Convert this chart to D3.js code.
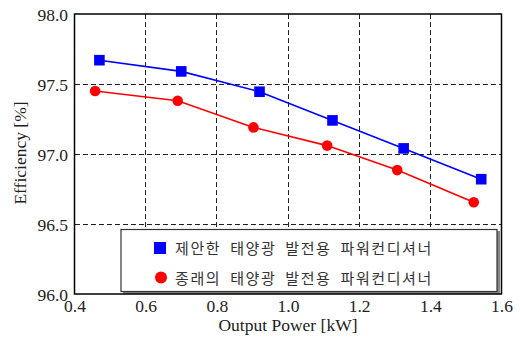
<!DOCTYPE html>
<head>
  <meta charset="utf-8">
  <script src="https://d3js.org/d3.v7.min.js"></script>
  <style>
    body { margin: 0; background: #fff; }
    .leg { font-family: "Noto Sans CJK KR", sans-serif; font-size: 15px; fill: #333; letter-spacing: 1.6px; word-spacing: 4px; }
  </style>
</head>
<body>
  <svg width="520" height="337" id="chart"></svg>
  <script>
    // values
    const xProposed = [0.47, 0.70, 0.92, 1.125, 1.325, 1.543];
    const yProposed = [97.67, 97.59, 97.445, 97.24, 97.04, 96.82];
    const xConventional = [0.458, 0.69, 0.903, 1.11, 1.307, 1.522];
    const yConventional = [97.45, 97.38, 97.19, 97.06, 96.885, 96.655];
    const xTicks = [0.4, 0.6, 0.8, 1.0, 1.2, 1.4, 1.6];
    const yTicks = [96.0, 96.5, 97.0, 97.5, 98.0];
    const seriesNames = ["제안한 태양광 발전용 파워컨디셔너", "종래의 태양광 발전용 파워컨디셔너"];

    const serif = '"Liberation Serif", "Times New Roman", "DejaVu Serif", serif';
    const svg = d3.select("#chart");
    const mLeft = 74.5, mRight = 501.5, mTop = 14, mBottom = 294;

    const x = d3.scaleLinear().domain([0.4, 1.6]).range([mLeft, mRight]);
    const y = d3.scaleLinear().domain([96, 98]).range([mBottom, mTop]);

    // grid
    const grid = svg.append("g").attr("stroke", "#222").attr("stroke-dasharray", "5,3")
      .attr("stroke-width", 1).attr("shape-rendering", "crispEdges");
    grid.selectAll("line.v").data(xTicks.slice(1, -1)).enter().append("line")
      .attr("x1", d => x(d)).attr("x2", d => x(d)).attr("y1", mTop).attr("y2", mBottom);
    grid.selectAll("line.h").data(yTicks.slice(1, -1)).enter().append("line")
      .attr("y1", d => y(d)).attr("y2", d => y(d)).attr("x1", mLeft).attr("x2", mRight);

    // axes
    svg.append("g").attr("transform", `translate(0,${mBottom})`)
      .call(d3.axisBottom(x).tickValues(xTicks).tickFormat(d3.format(".1f")).tickSize(0).tickPadding(5.5))
      .call(g => g.select(".domain").remove())
      .attr("font-family", serif).attr("font-size", 17.5)
      .selectAll("text").style("font-family", serif).attr("fill", "#222");
    svg.append("g").attr("transform", `translate(${mLeft},0)`)
      .call(d3.axisLeft(y).tickValues(yTicks).tickFormat(d3.format(".1f")).tickSize(0).tickPadding(6.5))
      .call(g => g.select(".domain").remove())
      .attr("font-family", serif).attr("font-size", 17.5)
      .selectAll("text").attr("dy", "0.35em").style("font-family", serif).attr("fill", "#222");

    svg.append("text").attr("x", 288).attr("y", 331)
      .style("font-family", serif).attr("font-size", 17.5).attr("fill", "#222")
      .attr("text-anchor", "middle").text("Output Power [kW]");
    svg.append("text")
      .style("font-family", serif).attr("font-size", 17.5).attr("fill", "#222")
      .attr("transform", `translate(26,153) rotate(-90)`)
      .attr("text-anchor", "middle").text("Efficiency [%]");

    // series
    const line = d3.line().x(d => x(d[0])).y(d => y(d[1]));
    const blue = xProposed.map((v, i) => [v, yProposed[i]]);
    const red = xConventional.map((v, i) => [v, yConventional[i]]);

    svg.append("path").datum(red).attr("d", line).attr("fill", "none").attr("stroke", "#ff0000").attr("stroke-width", 1.6);
    svg.selectAll("circle.red").data(red).enter().append("circle")
      .attr("cx", d => x(d[0])).attr("cy", d => y(d[1])).attr("r", 5.3).attr("fill", "#ff0000");

    svg.append("path").datum(blue).attr("d", line).attr("fill", "none").attr("stroke", "#0000ff").attr("stroke-width", 1.6);
    svg.selectAll("rect.blue").data(blue).enter().append("rect")
      .attr("x", d => x(d[0]) - 5.3).attr("y", d => y(d[1]) - 5.3).attr("width", 10.6).attr("height", 10.6).attr("fill", "#0000ff");

    // legend
    const lg = svg.append("g");
    lg.append("rect").attr("x", 123).attr("y", 231).attr("width", 377).attr("height", 63).attr("fill", "#888");
    lg.append("rect").attr("x", 121).attr("y", 229.5).attr("width", 376).attr("height", 62)
      .attr("fill", "#fff").attr("stroke", "#333").attr("stroke-width", 1.2);
    lg.append("rect").attr("x", 154).attr("y", 242).attr("width", 12).attr("height", 12).attr("fill", "#0000ff");
    lg.append("circle").attr("cx", 161).attr("cy", 277.5).attr("r", 6).attr("fill", "#ff0000");
    lg.selectAll("text").data(seriesNames).enter().append("text").attr("class", "leg")
      .attr("x", 175).attr("y", (d, i) => 247.5 + i * 30).attr("dominant-baseline", "central").text(d => d);

    // frame
    svg.append("rect").attr("x", mLeft).attr("y", mTop).attr("width", mRight - mLeft).attr("height", mBottom - mTop)
      .attr("fill", "none").attr("stroke", "#000").attr("stroke-width", 1.5);
  </script>
</body>
